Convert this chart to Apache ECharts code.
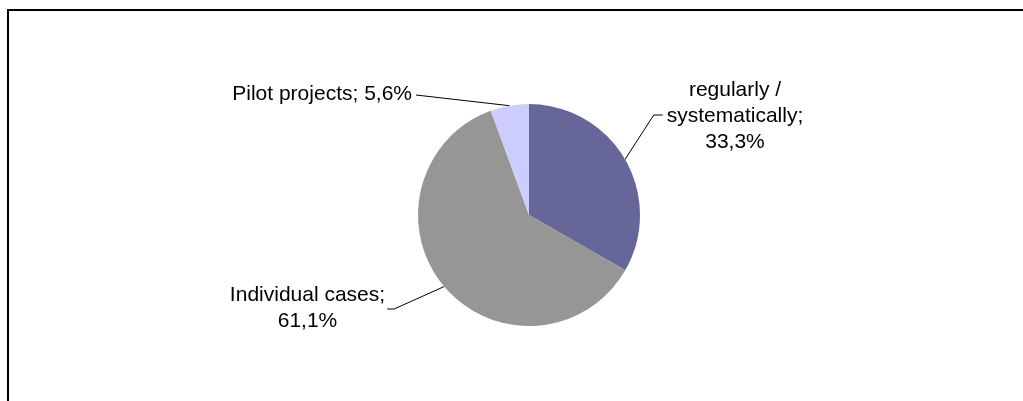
<!DOCTYPE html>
<html>
<head>
<meta charset="utf-8">
<script src="https://cdn.jsdelivr.net/npm/echarts@6/dist/echarts.min.js"></script>
<style>
  html, body { margin: 0; padding: 0; background: #ffffff; }
  #chart { width: 1023px; height: 401px; }
</style>
</head>
<body>
<div id="chart"></div>
<script>
const categories = ['regularly /\nsystematically', 'Individual cases', 'Pilot projects'];
const values = [33.3, 61.1, 5.6];
const labelSeparators = ['\n', '\n', ' '];
const colors = ['#666699', '#969696', '#CCCCFF'];

// label placement (layout only)
const labelPlacement = [
  { x: 735, y: 116, align: 'center', side: 'right' },
  { x: 307.5, y: 308, align: 'center', side: 'left' },
  { x: 412, y: 94, align: 'right', side: 'left', straight: true }
];

const chart = echarts.init(document.getElementById('chart'), null, { renderer: 'canvas' });

const option = {
  backgroundColor: '#ffffff',
  animation: false,
  graphic: [{
    type: 'rect',
    shape: { x: 8, y: 10, width: 1100, height: 500 },
    style: { fill: 'none', stroke: '#000000', lineWidth: 2 },
    silent: true
  }],
  series: [{
    type: 'pie',
    center: [529, 215],
    radius: 111,
    startAngle: 90,
    clockwise: true,
    avoidLabelOverlap: false,
    emphasis: { disabled: true },
    itemStyle: { borderWidth: 0 },
    data: categories.map((c, i) => ({
      name: c,
      value: values[i],
      itemStyle: { color: colors[i] }
    })),
    label: {
      show: true,
      position: 'outside',
      color: '#000000',
      fontFamily: '"Liberation Sans", Arial, sans-serif',
      fontSize: 21,
      lineHeight: 26,
      formatter: function (p) {
        return p.name + ';' + labelSeparators[p.dataIndex] +
          p.value.toFixed(1).replace('.', ',') + '%';
      }
    },
    labelLine: {
      show: true,
      length: 20,
      length2: 10,
      lineStyle: { color: '#000000', width: 1 }
    },
    labelLayout: function (params) {
      const L = labelPlacement[params.dataIndex];
      const w = params.labelRect.width;
      const start = params.labelLinePoints ? params.labelLinePoints[0] : null;
      let pts;
      if (start) {
        if (L.straight) {
          const endX = L.x + 4;
          pts = [start, [endX, L.y + 1], [endX, L.y + 1]];
        } else if (L.side === 'right') {
          const left = L.x - w / 2;
          pts = [start, [left - 13, L.y - 1], [left - 4, L.y - 1]];
        } else {
          const right = L.x + w / 2;
          pts = [start, [right + 9, L.y + 1], [right + 2, L.y + 1]];
        }
      }
      const out = { x: L.x, y: L.y, align: L.align, verticalAlign: 'middle' };
      if (pts) out.labelLinePoints = pts;
      return out;
    }
  }]
};

chart.setOption(option);
</script>
</body>
</html>
